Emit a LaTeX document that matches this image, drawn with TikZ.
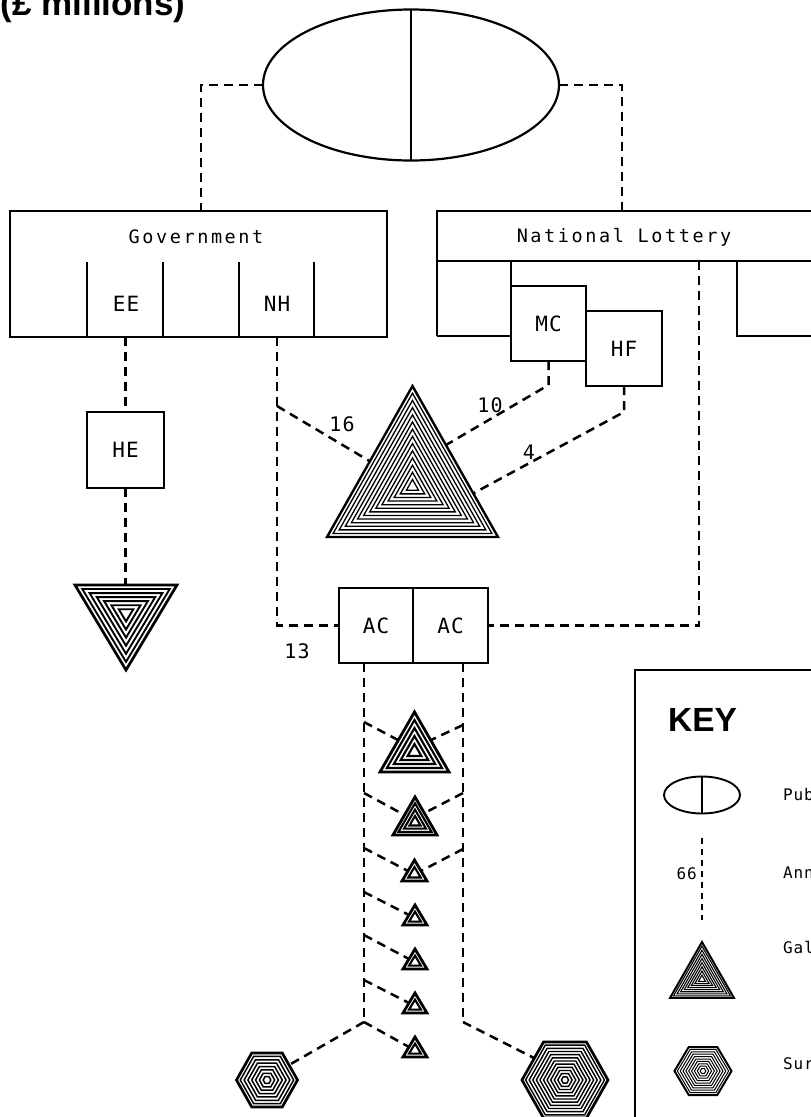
\documentclass[tikz,border=0pt]{standalone}
\usepackage{fontspec}
\usetikzlibrary{shapes.geometric,calc}
\newfontfamily\plotw[LetterSpace=14]{DejaVu Sans Mono}
\newfontfamily\plotf[LetterSpace=5]{DejaVu Sans Mono}
\newfontfamily\headf{Liberation Sans}
% nested triangle: cx, cy (centroid), w, h (negative = pointing down), inner rings, inner lw, outer lw
\newcommand\nestri[7]{%
  \draw[line width=#7, line join=miter] (#1,{#2-2*(#4)/3}) -- ({#1+(#3)/2},{#2+(#4)/3}) -- ({#1-(#3)/2},{#2+(#4)/3}) -- cycle;
  \foreach \k in {1,...,#5}{
    \pgfmathsetmacro\sf{1-\k/(#5+1)}
    \draw[line width=#6, line join=miter] (#1,{#2-2*(#4)*\sf/3}) -- ({#1+(#3)*\sf/2},{#2+(#4)*\sf/3}) -- ({#1-(#3)*\sf/2},{#2+(#4)*\sf/3}) -- cycle;
  }}
% nested hexagon: cx, cy, r, half height, inner rings, inner lw, outer lw
\newcommand\neshex[7]{%
  \draw[line width=#7] ({#1-(#3)},#2) -- ({#1-(#3)/2},{#2-(#4)}) -- ({#1+(#3)/2},{#2-(#4)}) -- ({#1+(#3)},#2) -- ({#1+(#3)/2},{#2+(#4)}) -- ({#1-(#3)/2},{#2+(#4)}) -- cycle;
  \foreach \k in {1,...,#5}{
    \pgfmathsetmacro\sf{1-\k/(#5+1)}
    \draw[line width=#6] ({#1-(#3)*\sf},#2) -- ({#1-(#3)*\sf/2},{#2-(#4)*\sf}) -- ({#1+(#3)*\sf/2},{#2-(#4)*\sf}) -- ({#1+(#3)*\sf},#2) -- ({#1+(#3)*\sf/2},{#2+(#4)*\sf}) -- ({#1-(#3)*\sf/2},{#2+(#4)*\sf}) -- cycle;
  }}
\begin{document}
\begin{tikzpicture}[x=1pt,y=-1pt,
  conn/.style={line width=2.5pt, dash pattern=on 9pt off 6pt},
  edge2/.style={line width=2.3pt},
  sq/.style={draw, line width=2.3pt, inner sep=0pt, outer sep=0pt, minimum width=75pt, minimum height=75pt, font=\plotf\fontsize{21}{21}\selectfont},
  lbl/.style={inner sep=0pt, font=\plotf\fontsize{21}{21}\selectfont},
  hd/.style={inner sep=0pt, font=\plotw\fontsize{18.5}{18.5}\selectfont},
  num/.style={inner sep=0pt, font=\plotf\fontsize{20}{20}\selectfont},
  keyt/.style={inner sep=0pt, font=\plotf\fontsize{16}{16}\selectfont},
  bigt/.style={inner sep=0pt, font=\headf\bfseries\fontsize{#1}{#1}\selectfont}]
\useasboundingbox (0,0) rectangle (811,1117);
\fill[white] (0,0) rectangle (811,1117);
\clip (0,0) rectangle (811,1117);

% title
\node[bigt=35, anchor=base west] (title) at (0.5,15.5) {(£ millions)};

% public ellipse
\node[draw, ellipse, line width=2.2pt, minimum width=296pt, minimum height=151pt, inner sep=0pt, outer sep=0pt] (pub) at (411,85) {};
\draw[edge2] (pub.north) -- (pub.south);

% Government box
\node[draw, line width=2.3pt, minimum width=377pt, minimum height=126pt, anchor=north west, inner sep=0pt, outer sep=0pt] (gov) at (10,211) {};
\node[hd] (govt) at (196,237) {Government};
\foreach \xx in {87,163,239,314} \draw[edge2] (\xx,262) -- (\xx,337);
\node[lbl] (ee) at (126,304) {EE};
\node[lbl] (nh) at (277,304) {NH};

% National Lottery box
\node[sq] (mc) at (548.5,323.5) {MC};
\node[sq, minimum width=76pt] (hf) at (624,348.5) {HF};
\draw[edge2] (437,336) -- (437,211) -- (820,211);
\draw[edge2] (437,261) -- (820,261);
\draw[edge2] (437,336) -- (511,336);
\draw[edge2] (511,261) -- (mc.north west);
\draw[edge2] (737,261) -- (737,336) -- (820,336);
\node[hd] (nl) at (624,237) {National Lottery};

% other boxes
\node[sq, minimum width=77pt, minimum height=76pt] (he) at (125.5,450) {HE};
\node[sq, minimum width=74pt] (ac1) at (376,625.5) {AC};
\node[sq, minimum width=75pt] (ac2) at (450.5,625.5) {AC};

% shapes
\nestri{412.5}{486.7}{171}{151}{13}{1.3pt}{2.4pt}
\nestri{126}{613.3}{102}{-85}{6}{1.9pt}{2.7pt}
\nestri{414.5}{752}{69}{60}{4}{2.1pt}{2.8pt}
\nestri{415}{822.3}{44}{38}{3}{2.1pt}{2.8pt}
\nestri{414.5}{874}{25}{21}{1}{2.1pt}{2.8pt}
\foreach \ay in {905,949,993,1037} {\nestri{415}{\ay+13.3}{24}{20}{1}{2.1pt}{2.8pt}}
\neshex{565}{1080}{43}{38}{11}{1.4pt}{2.7pt}
\neshex{267}{1080}{30.5}{27}{7}{1.5pt}{2.7pt}

% connectors
\coordinate (gl) at (201,211);
\coordinate (nr) at (622,211);
\draw[conn] (pub.west) -| (gl);
\draw[conn] (pub.east) -| (nr);
\coordinate (eeb) at (125.5,337);
\coordinate (itop) at (125.5,585);
\draw[conn] (eeb) -- (he.north);
\draw[conn] (he.south) -- (itop);
\coordinate (nhb) at (277,337);
\coordinate (nhk) at (277,406);
\coordinate (g16) at (369.5,461);
\draw[conn] (nhb) |- (ac1.west);
\draw[conn] (nhk) -- (g16);
\coordinate (mck) at (548.5,385);
\coordinate (g10) at (446,445);
\draw[conn] (mc.south) -- (mck) -- (g10);
\coordinate (hfk) at (624,412);
\coordinate (g4) at (474,493);
\draw[conn] (hf.south) -- (hfk) -- (g4);
\coordinate (nlb) at (699,261);
\draw[conn] (nlb) |- (ac2.east);

\node[num] (n16) at (342,424) {16};
\node[num] (n10) at (490,405) {10};
\node[num] (n4) at (529,452) {4};
\node[num] (n13) at (297,651) {13};

% columns below Arts Council
\coordinate (lct) at (364,663);
\coordinate (lcb) at (364,1022);
\coordinate (rct) at (463,663);
\coordinate (rcb) at (463,1022);
\draw[conn] (lct) -- (lcb);
\draw[conn] (rct) -- (rcb);
% branch points and attach points
\coordinate (l1) at (364,722); \coordinate (t1l) at (398,740);
\coordinate (r1) at (463,725); \coordinate (t1r) at (431,740);
\coordinate (l2) at (364,793); \coordinate (t2l) at (404.5,815);
\coordinate (r2) at (463,793); \coordinate (t2r) at (424.5,813);
\coordinate (l3) at (364,848); \coordinate (t3l) at (408,871);
\coordinate (r3) at (463,849); \coordinate (t3r) at (421,871);
\coordinate (l4) at (364,892); \coordinate (t4l) at (409,915);
\coordinate (l5) at (364,935); \coordinate (t5l) at (409,959);
\coordinate (l6) at (364,980); \coordinate (t6l) at (409,1003);
\coordinate (t7l) at (409,1047);
\draw[conn] (l1) -- (t1l); \draw[conn] (r1) -- (t1r);
\draw[conn] (l2) -- (t2l); \draw[conn] (r2) -- (t2r);
\draw[conn] (l3) -- (t3l); \draw[conn] (r3) -- (t3r);
\draw[conn] (l4) -- (t4l);
\draw[conn] (l5) -- (t5l);
\draw[conn] (l6) -- (t6l);
\draw[conn] (lcb) -- (t7l);
\coordinate (hla) at (289,1065);
\coordinate (hra) at (534,1058);
\draw[conn] (lcb) -- (hla);
\draw[conn] (rcb) -- (hra);

% key
\draw[line width=2.6pt] (635,1130) -- (635,670) -- (830,670);
\node[bigt=33.5, anchor=base west] (key) at (668,731) {KEY};
\node[draw, ellipse, line width=1.9pt, minimum width=76pt, minimum height=37pt, inner sep=0pt, outer sep=0pt] (kpub) at (702,795) {};
\draw[line width=1.9pt] (kpub.north) -- (kpub.south);
\coordinate (kd1) at (702,838);
\coordinate (kd2) at (702,920);
\draw[conn, line width=2pt, dash pattern=on 6pt off 5pt] (kd1) -- (kd2);
\node[keyt, anchor=east] (k66) at (697,874) {66};
\nestri{702}{979.3}{64}{56}{8}{1.1pt}{2pt}
\neshex{703}{1071}{28.5}{24}{9}{1pt}{2pt}
\node[keyt, anchor=base west] (kt1) at (783,800.5) {Pub};
\node[keyt, anchor=base west] (kt2) at (783,878.5) {Ann};
\node[keyt, anchor=base west] (kt3) at (783,953.5) {Gal};
\node[keyt, anchor=base west] (kt4) at (783,1069.5) {Sur};
\end{tikzpicture}
\end{document}
